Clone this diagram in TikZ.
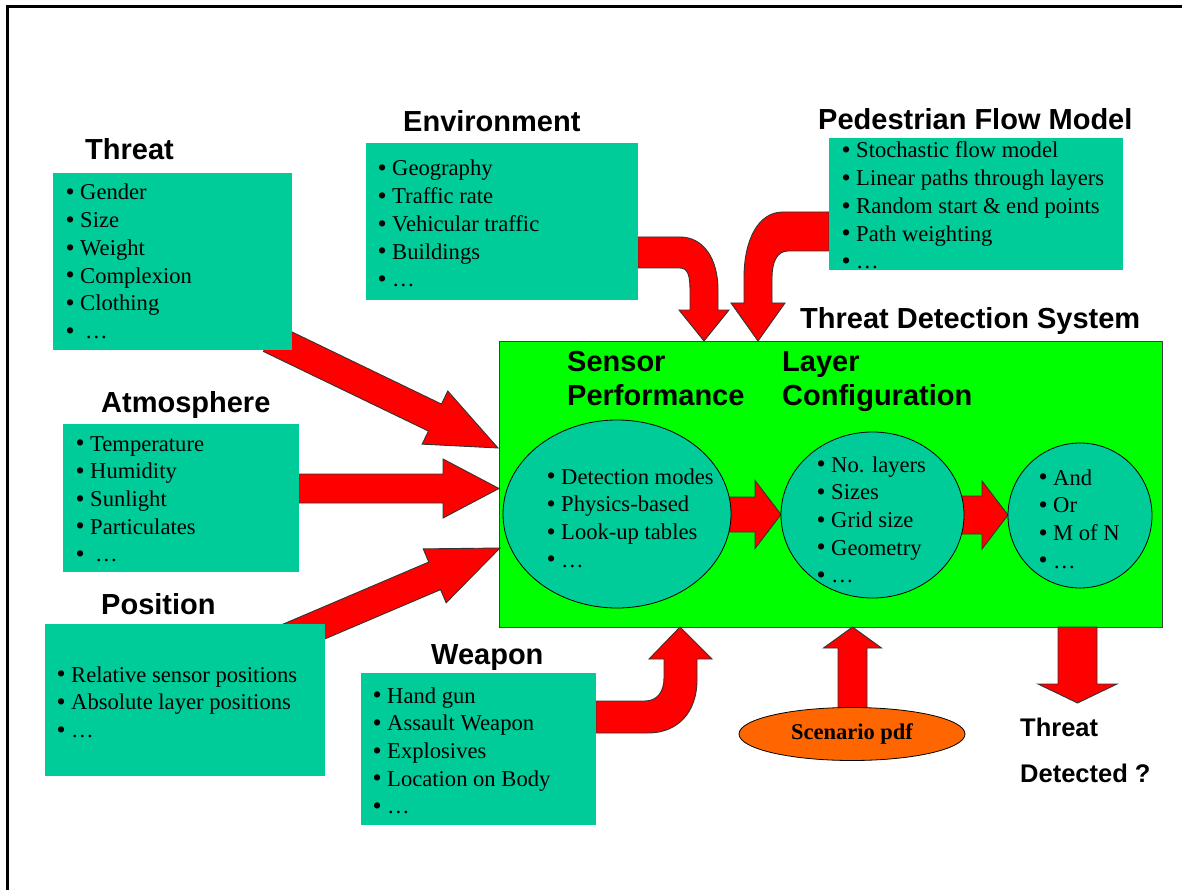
\documentclass[tikz,border=0pt]{standalone}
\usepackage{fontspec}
\setmainfont{Liberation Serif}
\setsansfont{Liberation Sans}
\usetikzlibrary{calc,shapes.geometric}
\definecolor{tealbox}{HTML}{00CC99}
\definecolor{grnbox}{HTML}{00FF00}
\definecolor{orgbox}{HTML}{FF6600}
\newcommand{\bul}{\makebox[14pt][l]{\hspace{-0.5pt}\raisebox{-0.8pt}{\scalebox{1.15}{\textbullet}}}}
\newcommand{\blist}[1]{\begin{tabular}[t]{@{}l@{}}#1\end{tabular}}
\tikzset{
  tbox/.style={fill=tealbox, draw=none, inner sep=0pt, anchor=north west},
  mainbox/.style={fill=grnbox, draw=black!75, line width=1.3pt, inner sep=0pt, anchor=north west},
  head/.style={font=\sffamily\bfseries\fontsize{29}{34}\selectfont, anchor=base west, inner sep=0pt},
  headsm/.style={font=\sffamily\bfseries\fontsize{25.5}{30}\selectfont, anchor=base west, inner sep=0pt},
  list/.style={font=\fontsize{22.6}{27.7}\selectfont, anchor=base west, inner sep=0pt},
  fatarr/.style={fill=red, draw=black!80, line width=0.9pt, line join=miter},
  oval/.style={ellipse, fill=tealbox, draw=black, line width=0.8pt, inner sep=0pt},
}
\newcommand{\fatarrow}[5]{%
  \coordinate (fab) at ($(#2)!#5pt!(#1)$);
  \draw[fatarr] ($(#1)!#3pt!90:(#2)$) -- ($(fab)!#3pt!90:(#2)$) -- ($(fab)!#4pt!90:(#2)$) -- (#2)
    -- ($(fab)!#4pt!-90:(#2)$) -- ($(fab)!#3pt!-90:(#2)$) -- ($(#1)!#3pt!-90:(#2)$) -- cycle;}
\begin{document}
\begin{tikzpicture}[x=1pt,y=-1pt]
\useasboundingbox (0,0) rectangle (1182,890);
\fill[white] (0,0) rectangle (1182,890);
% frame
\draw[line width=3pt] (7.5,890) -- (7.5,6.5) -- (1182,6.5);
% main system box
\node[mainbox, minimum width=663pt, minimum height=286pt] (main) at (499,341) {};
% named arrow ends
\coordinate (thrS) at (270,338);  \coordinate (thrT) at (498,448);
\coordinate (atmS) at (290,488.5); \coordinate (atmT) at (499,488.5);
\coordinate (posS) at (270,646);  \coordinate (posT) at (500,548);
\coordinate (a1S) at (725,514.5); \coordinate (a1T) at (781,514.5);
\coordinate (a2S) at (955,515);   \coordinate (a2T) at (1008,515);
\coordinate (scnS) at (852.5,712); \coordinate (scnT) at (852.5,627);
\coordinate (detS) at (1077.5,627); \coordinate (detT) at (1077.5,703);
% straight fat arrows
\fatarrow{thrS}{thrT}{15}{29.5}{70}
\fatarrow{atmS}{atmT}{14.5}{29.5}{56}
\fatarrow{posS}{posT}{15}{29.3}{71}
\fatarrow{a1S}{a1T}{17.5}{34}{26}
\fatarrow{a2S}{a2T}{19}{34}{26}
\fatarrow{scnS}{scnT}{14.5}{29}{21}
\fatarrow{detS}{detT}{19.5}{39.5}{19}
% bent arrows
\draw[fatarr] (638,237) -- (680,237) .. controls (703,237) and (718,258) .. (718,290) -- (718,310)
  -- (729,310) -- (704,341) -- (679,310) -- (690,310) -- (690,290)
  .. controls (690,276) and (688,268) .. (680,268) -- (638,268) -- cycle;
\draw[fatarr] (829,212) -- (783,212) .. controls (758,212) and (744,240) .. (744,278) -- (744,303)
  -- (731,303) -- (758,341) -- (785,303) -- (772,303) -- (772,278)
  .. controls (772,262) and (777,251) .. (788,251) -- (829,251) -- cycle;
\draw[fatarr] (596,701) -- (645,701) .. controls (657,701) and (664,692) .. (664,678) -- (664,659)
  -- (649,659) -- (680,627) -- (712,659) -- (697,659) -- (697,680)
  .. controls (697,712) and (678,733) .. (648,733) -- (596,733) -- cycle;
% teal boxes
\node[tbox, minimum width=239pt, minimum height=177pt] (thr) at (53,173) {};
\node[tbox, minimum width=272pt, minimum height=157pt] (env) at (366,143) {};
\node[tbox, minimum width=294pt, minimum height=132pt] (ped) at (829,138) {};
\node[tbox, minimum width=236pt, minimum height=148pt] (atm) at (63,424) {};
\node[tbox, minimum width=280pt, minimum height=152pt] (pos) at (45,624) {};
\node[tbox, minimum width=235pt, minimum height=152pt] (wea) at (361,673) {};
% ellipses
\node[oval, minimum width=228pt, minimum height=188pt] (e1) at (617,514) {};
\node[oval, minimum width=183pt, minimum height=166pt] (e2) at (872.5,515) {};
\node[oval, minimum width=144pt, minimum height=145pt] (e3) at (1080,515.5) {};
\node[ellipse, fill=orgbox, draw=black, line width=0.8pt, minimum width=226pt, minimum height=53pt, inner sep=0pt,
  font=\fontsize{22.5}{26}\selectfont\bfseries] (scn) at (852,734) {Scenario pdf};
% headings
\node[head] (hThr) at (85,160) {Threat};
\node[head] (hEnv) at (403,132) {Environment};
\node[head] (hPed) at (818,130) {Pedestrian Flow Model};
\node[head] (hTDS) at (800,328) {Threat Detection System};
\node[head] (hAtm) at (101,412) {Atmosphere};
\node[head] (hPos) at (101,614) {Position};
\node[head] (hWea) at (431,664) {Weapon};
\node[head] (hSen1) at (567,371) {Sensor};
\node[head] (hSen2) at (567,405) {Performance};
\node[head] (hLay1) at (782,371) {Layer};
\node[head] (hLay2) at (782,405) {Configuration};
\node[headsm] (hDet1) at (1020,736) {Threat};
\node[headsm] (hDet2) at (1020,782) {Detected ?};
% lists
\node[list] (lThr) at (66,200) {\blist{\bul Gender\\ \bul Size\\ \bul Weight\\ \bul Complexion\\ \bul Clothing\\ \bul\hspace{5pt}…}};
\node[list] (lEnv) at (378,176) {\blist{\bul Geography\\ \bul Traffic rate\\ \bul Vehicular traffic\\ \bul Buildings\\ \bul …}};
\node[list] (lPed) at (842,158) {\blist{\bul Stochastic flow model\\ \bul Linear paths through layers\\ \bul Random start \& end points\\ \bul Path weighting\\ \bul …}};
\node[list] (lAtm) at (76,451) {\blist{\bul Temperature\\ \bul Humidity\\ \bul Sunlight\\ \bul Particulates\\ \bul\hspace{5pt}…}};
\node[list] (lPos) at (57,682) {\blist{\bul Relative sensor positions\\ \bul Absolute layer positions\\ \bul …}};
\node[list] (lWea) at (373,703) {\blist{\bul Hand gun\\ \bul Assault Weapon\\ \bul Explosives\\ \bul Location on Body\\ \bul …}};
\node[list] (lE1) at (547,484) {\blist{\bul Detection modes\\ \bul Physics-based\\ \bul Look-up tables\\ \bul …}};
\node[list] (lE2) at (817,472) {\blist{\bul No. layers\\ \bul Sizes\\ \bul Grid size\\ \bul Geometry\\ \bul …}};
\node[list] (lE3) at (1039,485) {\blist{\bul And\\ \bul Or\\ \bul M of N\\ \bul …}};
\end{tikzpicture}
\end{document}
